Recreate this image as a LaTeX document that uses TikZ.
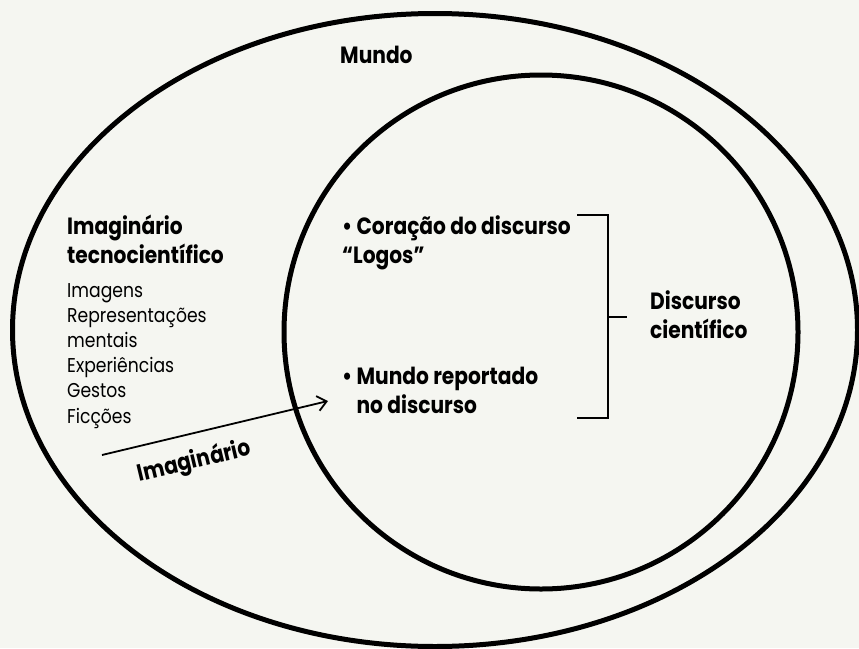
\documentclass[tikz,border=0pt]{standalone}
\usepackage{fontspec}
\setmainfont{Poppins}[FakeStretch=0.86]
\usepackage{tikz}
\usetikzlibrary{arrows,arrows.meta,positioning}
\definecolor{paper}{RGB}{245,246,241}
\tikzstyle{ring} = [line width=5pt,black]
\tikzstyle{bracket} = [line width=2.4pt,black]
\tikzstyle{arrow} = [line width=1.8pt,-{Straight Barb[length=9pt,width=15pt,line width=1.8pt]}]
\tikzstyle{boldlbl} = [inner sep=0pt,align=left,font=\bfseries\fontsize{23.5}{28.5}\selectfont]
\tikzstyle{plainlbl} = [inner sep=0pt,align=left,font=\fontsize{20}{25.2}\selectfont]

\begin{document}
\begin{tikzpicture}[x=1pt,y=-1pt]
\useasboundingbox (0,0) rectangle (859,648);
\fill[paper] (0,0) rectangle (859,648);

% Circles
\draw[ring] (435,330) ellipse [x radius=422.5, y radius=316.5];
\draw[ring] (541,332) circle [radius=257];

% Outer labels (base = last line)
\node[boldlbl, anchor=base west] (mundo) at (340,63) {Mundo};
\node[boldlbl, anchor=base west] (imagtec) at (67,263) {Imaginário\\tecnocientífico};
\node[plainlbl, anchor=base west] (lista) at (67,423)
  {Imagens\\Representações\\mentais\\Experiências\\Gestos\\Ficções};

% Inner labels
\node[boldlbl, anchor=base west] (coracao) at (342,263) {\textbullet\ Coração do discurso\\“Logos”};
\node[boldlbl, anchor=base west] (reportado) at (342,413)
  {\textbullet\ Mundo reportado\\\phantom{\textbullet\ }no discurso};

% Bracket
\coordinate (bt) at (577,215);
\coordinate (bb) at (577,418);
\coordinate (bm) at (608,317);
\draw[bracket] (bt) -| (bm |- bb) -- (bb);
\draw[bracket] (bm) -- ++(19,0) coordinate (btip);
\node[boldlbl, anchor=base west] (disccient) at (650,338) {Discurso\\científico};

% Arrow
\coordinate (arrfrom) at (102,455);
\coordinate (arrto) at (328,401);
\draw[arrow] (arrfrom) -- (arrto)
  node[boldlbl, pos=0.38, sloped, below=28pt, anchor=center] (imaglbl) {Imaginário};
\end{tikzpicture}
\end{document}
